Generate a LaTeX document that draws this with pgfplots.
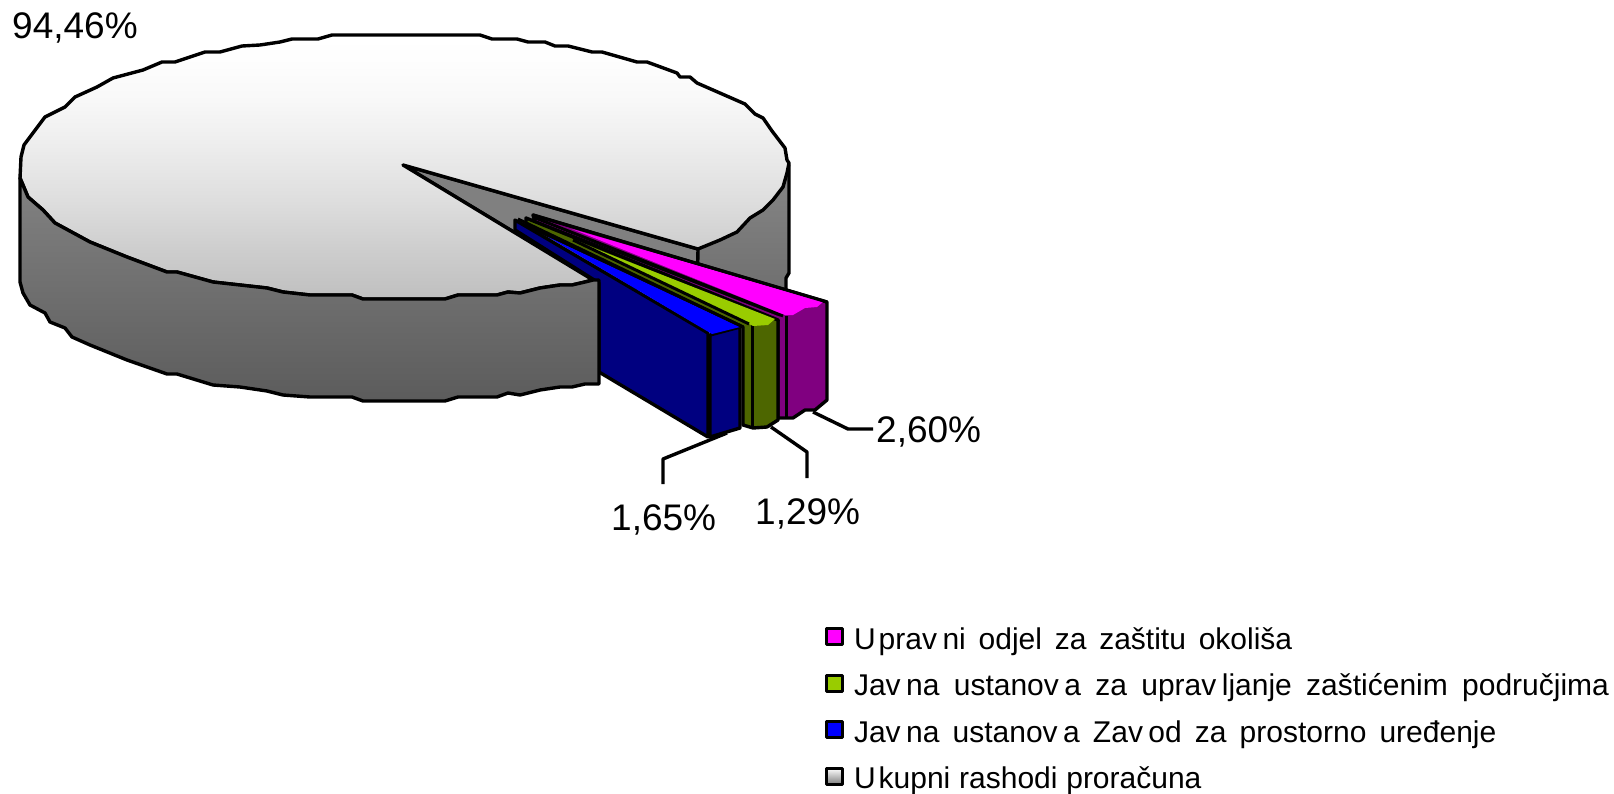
\documentclass[border=0pt]{standalone}
\usepackage{pgfplots}
\pgfplotsset{compat=1.18}
\usepackage{fontspec}
\setmainfont{Liberation Sans}
\newcommand\vk{v\kern5.5pt\relax}
\newcommand\uk{U\kern3pt\relax}
\definecolor{sliceP}{HTML}{FF00FF}
\definecolor{slicePd}{HTML}{800080}
\definecolor{sliceG}{HTML}{99CC00}
\definecolor{sliceGd}{HTML}{4D6600}
\definecolor{sliceB}{HTML}{0000FF}
\definecolor{sliceBd}{HTML}{000080}
\definecolor{wedge}{HTML}{808080}
\pgfdeclareverticalshading{topface}{100bp}{
  color(0bp)=(black!25); color(25bp)=(black!25); color(34.3bp)=(black!19.5);
  color(43.75bp)=(black!13); color(53.2bp)=(black!7.5); color(62.7bp)=(black!2.7);
  color(70.3bp)=(black!0.5); color(75bp)=(white); color(100bp)=(white)}
\begin{document}
\begin{tikzpicture}
\begin{axis}[
  at={(0,0)},anchor=south west,
  scale only axis,width=1614pt,height=794pt,
  xmin=0,xmax=1614,ymin=0,ymax=794,y dir=reverse,
  hide axis,clip=false,
  legend style={draw=none,fill=none,at={(axis cs:825,627)},anchor=north west,
    inner sep=0pt,outer sep=0pt,
    font=\fontsize{30}{30}\selectfont,
    row sep=23pt,
    nodes={inner sep=0pt,outer sep=0pt,anchor=base west}},
  legend cell align=left,
  every axis plot/.append style={line width=3.4pt,line join=round,forget plot,no marks,sharp plot},
  legend image code/.code={\draw[line width=3pt,#1] (0pt,4.5pt) rectangle (16pt,20.5pt);},
]
% legend
\addlegendimage{draw=black,fill=sliceP}
\addlegendentry{\hspace{10pt}\spaceskip=12.8pt\relax\strut \uk pra\vk ni odjel za zaštitu okoliša}
\addlegendimage{draw=black,fill=sliceG}
\addlegendentry{\hspace{10pt}\spaceskip=14.3pt\relax\strut Ja\vk na ustano\vk a za upra\vk ljanje zaštićenim područjima}
\addlegendimage{draw=black,fill=sliceB}
\addlegendentry{\hspace{10pt}\spaceskip=13.1pt\relax\strut Ja\vk na ustano\vk a Za\vk od za prostorno uređenje}
\addlegendimage{draw=black,top color=white,bottom color=gray}
\addlegendentry{\hspace{10pt}\spaceskip=8.8pt\relax\strut \uk kupni rashodi proračuna}

% right part of the grey side wall
\addplot[draw=black,top color=black!47,bottom color=black!57] coordinates {
 (697,249)(789,165)(789,273)(786,278)(786,300)(697,300)} -- cycle;
% inner wedge wall
\addplot[draw=black,fill=wedge] coordinates {
 (403,165)(698,249)(697,300)(593,280)} -- cycle;
% top face
\addplot[draw=black,shade,shading=topface] coordinates {
 (403,165)(698,249)(720,240)(737,232)(750,218)(763,210)(773,200)(783,187)(787,173)(789,163)(787,160)(785,148)(772,131)(763,118)(755,114)(745,104)(697,83)(690,77)(680,77)(677,73)(647,62)(637,62)(602,52)(592,52)(568,46)(555,46)(545,42)(528,42)(517,39)(492,39)(480,35)(332,35)(318,39)(292,39)(280,42)(260,45)(242,46)(220,52)(205,52)(175,62)(162,62)(143,70)(113,78)(97,87)(75,97)(65,107)(45,117)(33,133)(24,145)(21,157)(20,178)(28,197)(43,210)(55,223)(90,242)(127,257)(167,272)(177,272)(213,282)(240,285)(267,288)(283,292)(310,295)(352,295)(363,299)(445,299)(458,295)(497,295)(508,292)(520,293)(540,288)(560,285)(572,285)(585,282)(593,280)} -- cycle;
% pink slice
\addplot[draw=black,fill=slicePd] coordinates {
 (533,215)(827,302)(827,400)(815,410)(805,410)(793,418)(778,418)(778,315)(535,222)} -- cycle;
\addplot[draw=black,line width=3pt] coordinates {(786,316)(786,418)};
\addplot[draw=black,line width=3pt] coordinates {(533,217)(783,316)};
\addplot[draw=black,line width=3pt] coordinates {(533,222)(780,320)};
\addplot[draw=none,fill=slicePd] coordinates {(545,225)(783,318)(783,321)(540,225)} -- cycle;
\addplot[draw=none,fill=sliceP] coordinates {
 (572,229)(823,302)(817,307)(805,308)(793,315)(785,315)} -- cycle;
\addplot[draw=black,line width=3pt] coordinates {(533,215)(827,302)};
% green slice
\addplot[draw=black,fill=sliceGd] coordinates {
 (526,218)(778,320)(778,420)(767,427)(753,428)(743,425)(743,327)(526,225)} -- cycle;
\addplot[draw=black,line width=3pt] coordinates {(752,325)(752,428)};
\addplot[draw=none,fill=sliceG] coordinates {
 (573,240)(775,319)(768,325)(753,326)(749,324)} -- cycle;
\addplot[draw=black,line width=3pt] coordinates {(573,240)(749,324)};
% blue slice
\addplot[draw=black,fill=sliceBd] coordinates {
 (515,220)(708,333)(708,437)(599,372)(599,283)(515,230)} -- cycle;
\addplot[draw=black,fill=sliceBd] coordinates {
 (710,335)(740,327)(740,428)(710,437)} -- cycle;
\addplot[draw=none,fill=sliceB] coordinates {
 (548,237)(740,327)(712,334)} -- cycle;
\addplot[draw=black,line width=3pt] coordinates {(518,219)(741,326)};
% left and front side wall
\addplot[draw=black,top color=black!49,bottom color=black!64] coordinates {
 (20,178)(20,282)(23,293)(30,305)(45,313)(50,322)(65,328)(72,337)(90,345)(127,360)(167,374)(177,374)(213,385)(240,387)(267,391)(283,395)(310,397)(352,397)(363,401)(445,401)(458,397)(497,397)(508,393)(520,395)(540,390)(560,387)(572,387)(585,384)(599,384)(599,280)(593,280)(585,282)(572,285)(560,285)(540,288)(520,293)(508,292)(497,295)(458,295)(445,299)(363,299)(352,295)(310,295)(283,292)(267,288)(240,285)(213,282)(177,272)(167,272)(127,257)(90,242)(55,223)(43,210)(28,197)} -- cycle;
% leader lines
\addplot[draw=black] coordinates {(813,412)(848,429)(873,429)};
\addplot[draw=black] coordinates {(771,427)(807,452)(807,478)};
\addplot[draw=black] coordinates {(727,433)(663,459)(663,484)};
% data labels
\node[anchor=base west,inner sep=0pt,font=\fontsize{37}{37}\selectfont] at (axis cs:12,39) {94,46\%};
\node[anchor=base west,inner sep=0pt,font=\fontsize{37}{37}\selectfont] at (axis cs:876,442) {2,60\%};
\node[anchor=base west,inner sep=0pt,font=\fontsize{37}{37}\selectfont] at (axis cs:755,524) {1,29\%};
\node[anchor=base west,inner sep=0pt,font=\fontsize{37}{37}\selectfont] at (axis cs:611,530) {1,65\%};
\end{axis}
\pgfresetboundingbox
\path (0,0) rectangle (1614pt,794pt);
\end{tikzpicture}
\end{document}
